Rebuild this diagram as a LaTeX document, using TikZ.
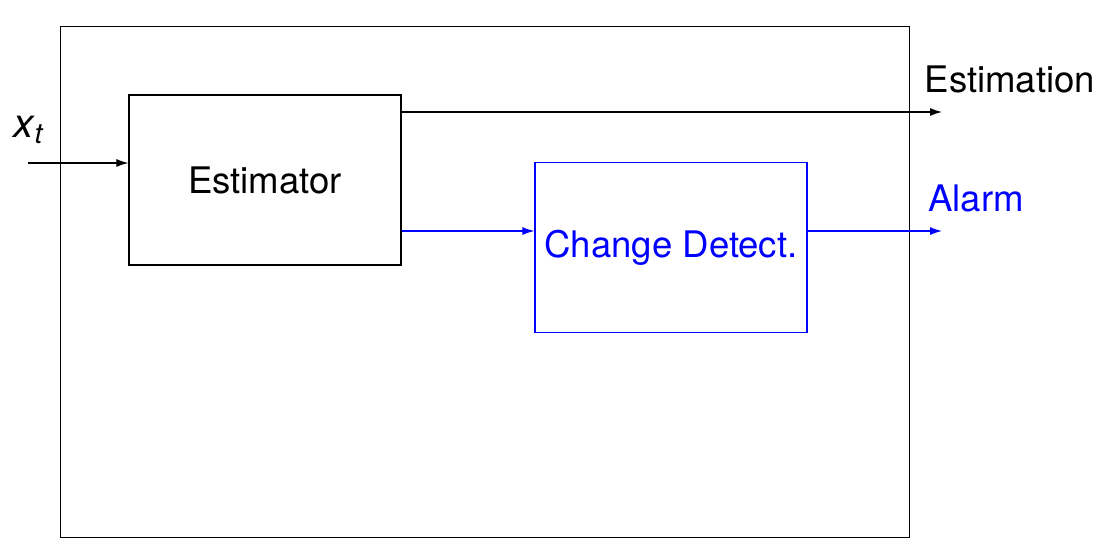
\documentclass[tikz,border=0pt]{standalone}
\usepackage{fontspec}
\setmainfont{TeX Gyre Heros}
\usetikzlibrary{arrows.meta,positioning}

\begin{document}
\begin{tikzpicture}[
    x=0.025cm, y=-0.025cm,
    every node/.style={font=\fontsize{26}{30}\selectfont},
    blk/.style={rectangle, draw, line width=0.8pt, minimum width=6.8cm,
                minimum height=4.25cm, inner sep=0pt},
    e/.style={-{Latex[length=3mm, width=2mm]}, line width=0.8pt},
    lbl/.style={inner sep=0pt},
  ]
  \useasboundingbox (0,0) rectangle (1102,559);
  \node[rectangle, draw, line width=0.8pt, minimum width=21.2cm,
        minimum height=12.75cm, inner sep=0pt] (frame) at (485,282) {};
  \node[blk] (est) at (265,180) {Estimator};
  \node[blk, blue] (cd) at (671,247.5) {Change Detect.};
  \coordinate (in) at (28,163);
  \coordinate (eout) at (942,112);
  \coordinate (aout) at (942,231);
  \node[lbl] (xt) at (28,130) {\fontsize{29}{32}\selectfont\itshape x\kern0.5pt\raisebox{-0.3ex}{\fontsize{20}{24}\selectfont t}};
  \node[lbl] (estim) at (1010,79) {Estimation};
  \node[lbl, blue] (alarm) at (976,198) {Alarm};
  \draw[e] (in) -- (est.west |- in);
  \draw[e] (est.east |- eout) -- (eout);
  \draw[e, blue] (est.east |- aout) -- (cd.west |- aout);
  \draw[e, blue] (cd.east |- aout) -- (aout);
\end{tikzpicture}
\end{document}
